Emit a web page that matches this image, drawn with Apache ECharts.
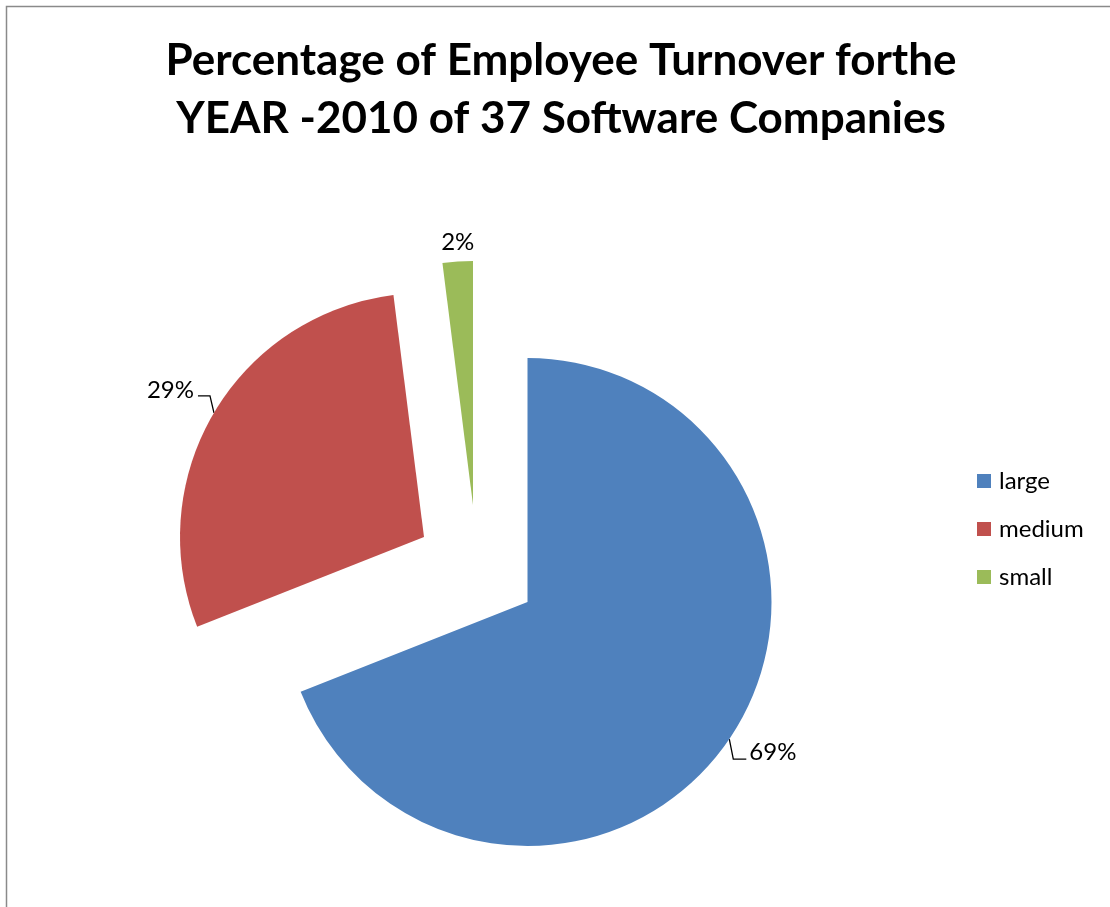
<!DOCTYPE html>
<html>
<head>
<meta charset="utf-8">
<title>Employee Turnover 2010</title>
<script src="https://cdn.jsdelivr.net/npm/echarts@6/dist/echarts.min.js"></script>
<style>
  html, body { margin: 0; padding: 0; background: #ffffff; }
  #chart { width: 1110px; height: 907px; }
</style>
</head>
<body>
<div id="chart"></div>
<script>
// Company size groups and their share of total turnover (percent)
const categories = ['large', 'medium', 'small'];
const shares = [69, 29, 2];
const colors = ['#4F81BD', '#C0504D', '#9BBB59'];

const FONT = 'Lato';

// Each slice is drawn by its own pie series so every slice can be pulled
// out by a different amount; the other slices of that series stay invisible.
const centers = [[527.5, 602], [424, 537], [473, 505]];

// Leader-line / label placement for each slice
const labelLayouts = [
  function (p) {
    const a = p.labelLinePoints && p.labelLinePoints[0];
    if (!a) return {};
    return {
      x: a[0] + 20, y: a[1] + 13, align: 'left', verticalAlign: 'middle',
      labelLinePoints: [a, [a[0] + 4, a[1] + 20], [a[0] + 17, a[1] + 20]]
    };
  },
  function (p) {
    const a = p.labelLinePoints && p.labelLinePoints[0];
    if (!a) return {};
    return {
      x: a[0] - 20, y: a[1] - 23, align: 'right', verticalAlign: 'middle',
      labelLinePoints: [a, [a[0] - 4, a[1] - 17], [a[0] - 16, a[1] - 17]]
    };
  },
  function (p) {
    const r = p.rect;
    return {
      x: r.x + r.width / 2, y: r.y - 19, align: 'center', verticalAlign: 'middle'
    };
  }
];

const series = categories.map(function (cat, i) {
  return {
    name: cat,
    type: 'pie',
    radius: 244,
    center: centers[i],
    startAngle: 90,
    clockwise: true,
    avoidLabelOverlap: false,
    animation: false,
    itemStyle: { borderWidth: 0 },
    emphasis: { disabled: true },
    label: {
      position: 'outside',
      formatter: '{d}%',
      color: '#000',
      fontFamily: FONT,
      fontSize: 24
    },
    labelLine: {
      length: 10,
      length2: 10,
      lineStyle: { color: '#000', width: 1.3 }
    },
    labelLayout: labelLayouts[i],
    data: categories.map(function (name, j) {
      const own = (i === j);
      return {
        name: name,
        value: shares[j],
        itemStyle: { color: own ? colors[j] : 'rgba(0,0,0,0)' },
        label: { show: own },
        labelLine: { show: own && j !== 2 }
      };
    })
  };
});

const chart = echarts.init(document.getElementById('chart'), null, { renderer: 'canvas' });

chart.setOption({
  backgroundColor: '#ffffff',
  animation: false,
  title: {
    text: 'Percentage of Employee Turnover forthe\nYEAR -2010 of 37 Software Companies',
    left: 561,
    top: 32,
    padding: 0,
    textAlign: 'center',
    textStyle: {
      fontFamily: FONT,
      fontWeight: 'bold',
      fontSize: 44,
      lineHeight: 58,
      color: '#000'
    }
  },
  legend: {
    orient: 'vertical',
    left: 977,
    top: 468,
    padding: 0,
    itemWidth: 14,
    itemHeight: 14,
    itemGap: 22,
    icon: 'rect',
    selectedMode: false,
    textStyle: {
      fontFamily: FONT,
      fontSize: 24,
      lineHeight: 26,
      color: '#000',
      padding: [0, 0, 0, 3]
    },
    data: categories.map(function (name, j) {
      return { name: name, itemStyle: { color: colors[j], opacity: 1 } };
    })
  },
  graphic: [{
    type: 'rect',
    silent: true,
    shape: { x: 6.5, y: 6.5, width: 1300, height: 1100 },
    style: { fill: 'none', stroke: '#8a8a8a', lineWidth: 1.5 }
  }],
  series: series
});
</script>
</body>
</html>
